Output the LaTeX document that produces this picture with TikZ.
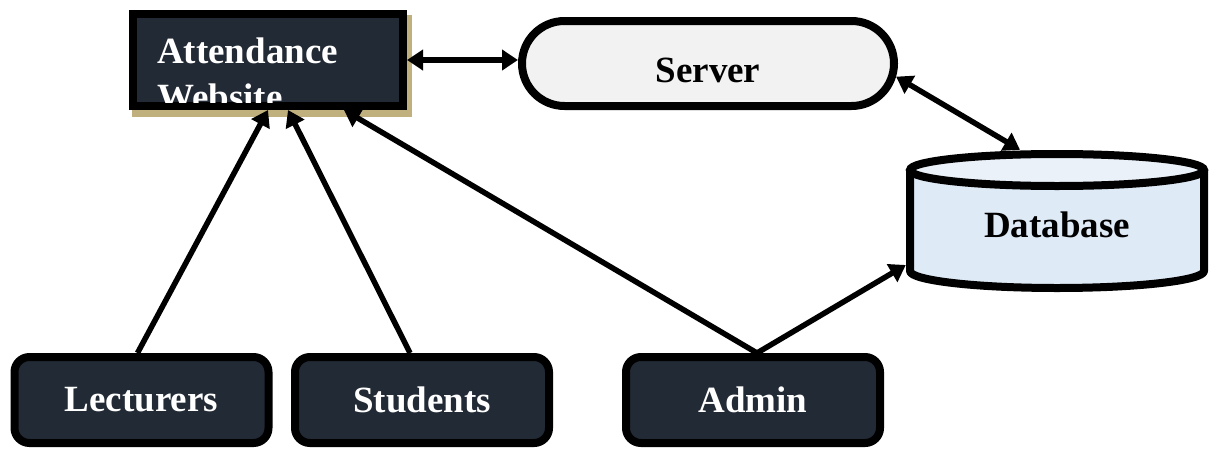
\documentclass[tikz,border=0pt]{standalone}
\usepackage{fontspec}
\setmainfont{Liberation Serif}
\usetikzlibrary{arrows.meta,shapes.misc}

\definecolor{slate}{HTML}{222A35}
\definecolor{srvfill}{HTML}{F2F2F2}
\definecolor{dbbody}{HTML}{DEEAF6}
\definecolor{dbcap}{HTML}{EAF1F9}
\definecolor{shadowtan}{HTML}{BFB07E}

\begin{document}
\begin{tikzpicture}[x=1pt,y=-1pt,
  lbl/.style={font=\fontsize{37}{46}\selectfont\bfseries},
  darkbox/.style={draw=black,line width=8pt,fill=slate,text=white,lbl,
    rounded corners=15pt,minimum width=254pt,minimum height=86pt,inner sep=0pt},
  tip/.tip={Triangle[length=16pt,width=20pt]},
  link/.style={line width=5.5pt,-tip},
  dlink/.style={line width=5.5pt,tip-tip}]

\useasboundingbox (0,0) rectangle (1210,450);

% website box with its drop shadow and clipped caption
\fill[shadowtan] (132,15) rectangle (412,117);
\node[draw=black,line width=8pt,fill=slate,minimum width=270pt,
  minimum height=92pt,inner sep=0pt] (web) at (268,60) {};
\begin{scope}
  \clip (137,18) rectangle (399,102);
  % base anchor of a two-line node sits on the last line
  \node[lbl,text=white,align=left,inner sep=0pt,anchor=base west]
    (webtxt) at (157,109) {Attendance\\Website};
\end{scope}

% server
\node[rounded rectangle,draw=black,line width=8pt,fill=srvfill,
  minimum width=372pt,minimum height=85pt,inner sep=0pt,lbl,
  text height=37pt,text depth=0pt] (srv) at (708,63.5) {Server};

% database cylinder
\fill[dbbody] (910,170) -- (910,271)
  arc[start angle=180,end angle=0,x radius=147,y radius=17]
  -- (1204,170) -- cycle;
\fill[dbcap] (1057,170) ellipse[x radius=147,y radius=16];
\draw[line width=8pt,line join=round] (910,170) -- (910,271)
  arc[start angle=180,end angle=0,x radius=147,y radius=17]
  -- (1204,170);
\draw[line width=8pt] (1057,170) ellipse[x radius=147,y radius=16];
\node[lbl,minimum width=302pt,minimum height=142pt,inner sep=0pt,
  text height=32pt,text depth=0pt] (db) at (1057,221) {Database};

% users
\node[darkbox] (lec) at (141.5,400) {Lecturers};
\node[darkbox] (stu) at (422,400) {Students};
\node[darkbox] (adm) at (753,400) {Admin};

% connectors
\draw[dlink] (web.east) -- (srv.west |- web.east);
\draw[dlink] (srv.-4.5) -- ([xshift=-37pt]db.north);
\draw[link] ([xshift=-4pt]lec.north) -- (web.south);
\draw[link] ([xshift=-12pt]stu.north) -- ([xshift=20pt]web.south);
\draw[link] ([xshift=4pt]adm.north) -- ([xshift=76pt]web.south);
\draw[link] ([xshift=4pt]adm.north) -- ([yshift=-44pt]db.west);
\end{tikzpicture}
\end{document}
